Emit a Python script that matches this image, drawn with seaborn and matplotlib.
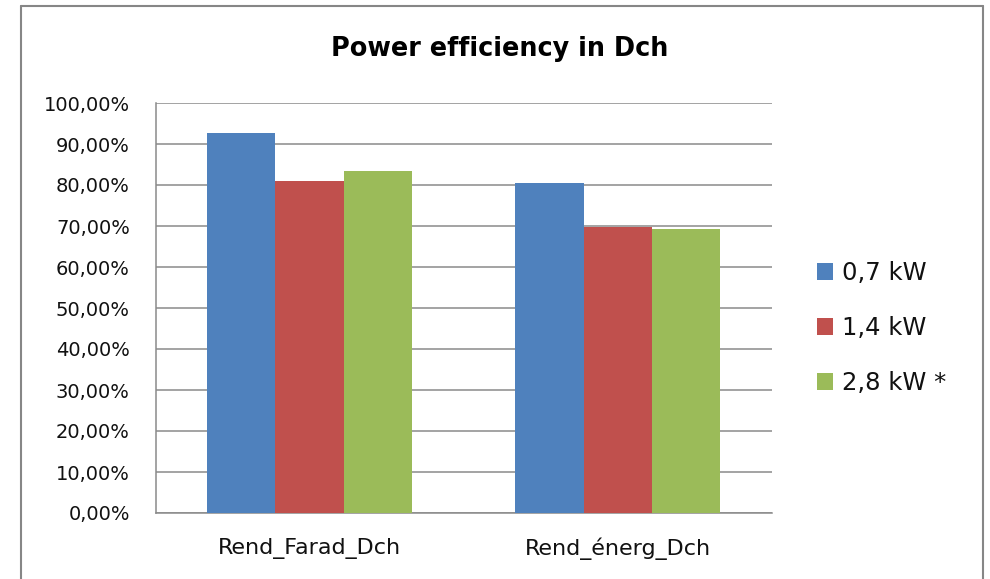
import matplotlib
matplotlib.use("Agg")
import matplotlib.pyplot as plt
import seaborn as sns
import pandas as pd
from matplotlib.lines import Line2D
from matplotlib.ticker import FuncFormatter

categories = ["Rend_Farad_Dch", "Rend_énerg_Dch"]
series_names = ["0,7 kW", "1,4 kW", "2,8 kW *"]
values_07 = [92.6, 80.5]
values_14 = [81.0, 69.7]
values_28 = [83.5, 69.3]
colors = ["#4F81BD", "#C0504D", "#9BBB59"]

rows = []
for name, vals in zip(series_names, [values_07, values_14, values_28]):
    for c, v in zip(categories, vals):
        rows.append({"cat": c, "series": name, "val": v})
df = pd.DataFrame(rows)

sns.set_theme(style="white")
plt.rcParams["font.family"] = ["DejaVu Sans"]

fig = plt.figure(figsize=(9.9, 5.79), dpi=100)
ax = fig.add_axes([155.5/990, 1-513/579, (772-155.5)/990, (513-103)/579])

sns.barplot(data=df, x="cat", y="val", hue="series", palette=colors,
            width=0.665, ax=ax, saturation=1, edgecolor="none", linewidth=0, zorder=3)

ax.set_xlim(-0.5, 1.5)
ax.set_ylim(0, 100)
ax.set_yticks(range(0, 101, 10))
ax.yaxis.set_major_formatter(FuncFormatter(lambda v, p: f"{v:.2f}%".replace(".", ",")))
ax.grid(axis="y", color="#8a8a8a", linewidth=1.1, zorder=0)
ax.set_axisbelow(True)
ax.set_xlabel("")
ax.set_ylabel("")
for s in ["top", "right"]:
    ax.spines[s].set_visible(False)
for s in ["left", "bottom"]:
    ax.spines[s].set_color("#8a8a8a")
    ax.spines[s].set_linewidth(1.1)
ax.tick_params(axis="y", length=0, labelsize=14, pad=18.5, labelcolor="#111111")
ax.tick_params(axis="x", length=0, labelsize=16, pad=18, labelcolor="#111111")

handles, labels = ax.get_legend_handles_labels()
ax.legend(handles, labels, loc="center left", bbox_to_anchor=(816.7/990, 1-328/579),
          bbox_transform=fig.transFigure, frameon=False, fontsize=17.5,
          handlelength=0.69, handleheight=0.66, handletextpad=0.35, labelspacing=1.28,
          borderaxespad=0, borderpad=0, labelcolor="#111111")

fig.text(499.5/990, 1-56/579, "Power efficiency in Dch", ha="center", va="baseline",
         fontsize=18.4, fontweight="bold", color="#000000")

# outer chart border
for xy in [((21/990, 21/990), (1-6/579, 0)), ((21/990, 983/990), (1-6/579, 1-6/579)), ((983/990, 983/990), (1-6/579, 0))]:
    fig.add_artist(Line2D(xy[0], xy[1], color="#868686", linewidth=1.5, transform=fig.transFigure))

fig.savefig("out.png", dpi=100, facecolor="white")
